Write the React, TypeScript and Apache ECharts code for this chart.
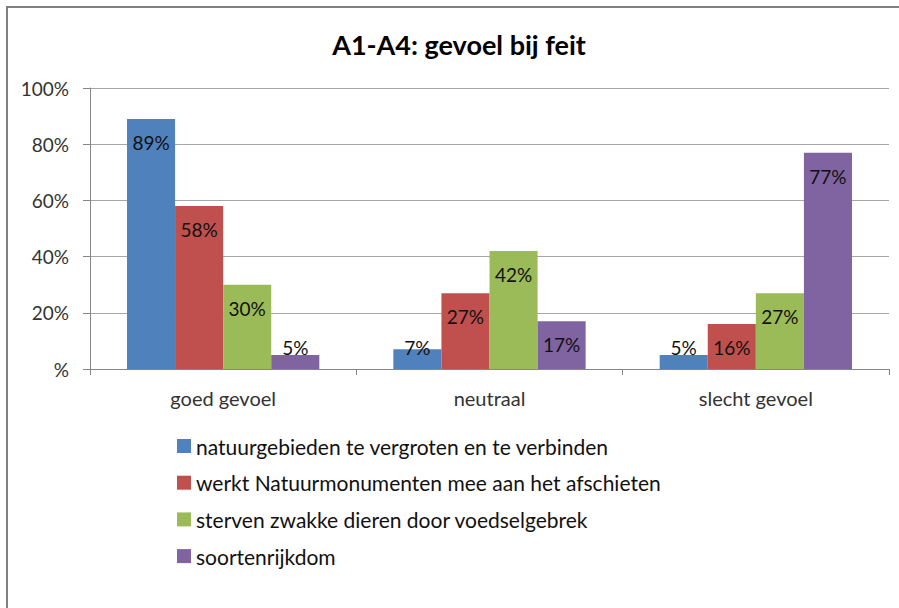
import React, { useEffect, useRef } from "react";
import * as echarts from "echarts";

const title = "A1-A4: gevoel bij feit";
const categories = ["goed gevoel", "neutraal", "slecht gevoel"];
const seriesNames = [
  "natuurgebieden te vergroten en te verbinden",
  "werkt Natuurmonumenten mee aan het afschieten",
  "sterven zwakke dieren door voedselgebrek",
  "soortenrijkdom",
];
const natuurgebieden = [89, 7, 5];
const natuurmonumenten = [58, 27, 16];
const sterven = [30, 42, 27];
const soortenrijkdom = [5, 17, 77];
const colors = ["#4F81BD", "#C0504D", "#9BBB59", "#8064A2"];
const yTicks = [0, 20, 40, 60, 80, 100];

const FONT = "Lato, 'Open Sans', sans-serif";

export default function App() {
  const ref = useRef<HTMLDivElement>(null);
  useEffect(() => {
    if (!ref.current) return;
    const chart = echarts.init(ref.current, undefined, { renderer: "svg" });
    const all = [natuurgebieden, natuurmonumenten, sterven, soortenrijkdom];
    const series = all.map((vals, i) => ({
      type: "bar",
      name: seriesNames[i],
      barGap: "0%",
      barCategoryGap: "27.8%",
      itemStyle: { color: colors[i] },
      data: vals.map((v) => ({
        value: v,
        label:
          v <= 10
            ? { show: true, position: "insideBottom", distance: 12 }
            : { show: true, position: "insideTop", distance: 14 },
      })),
      label: {
        show: true,
        formatter: (p: any) => p.value + "%",
        fontFamily: FONT,
        fontSize: 19,
        color: "#111",
      },
    }));
    chart.setOption({
      animation: false,
      backgroundColor: "#fff",
      textStyle: { fontFamily: FONT },
      graphic: [
        {
          type: "rect",
          shape: { x: 7, y: 7, width: 910, height: 620 },
          style: { fill: "none", stroke: "#808080", lineWidth: 2 },
          silent: true,
          z: 10,
        },
        {
          type: "text",
          x: 459,
          y: 44,
          style: {
            text: title,
            fontFamily: FONT,
            fontSize: 27,
            fontWeight: "bold",
            fill: "#000",
            align: "center",
            verticalAlign: "middle",
          },
        },
      ],
      grid: { left: 90, top: 88, right: 10, bottom: 239, containLabel: false },
      legend: {
        orient: "vertical",
        left: 172,
        top: 429,
        itemWidth: 14,
        itemHeight: 14,
        itemGap: 12.7,
        icon: "rect",
        textStyle: { fontFamily: FONT, fontSize: 21, color: "#111", lineHeight: 24 },
        data: seriesNames,
      },
      xAxis: {
        type: "category",
        data: categories,
        axisLine: { lineStyle: { color: "#868686", width: 1 } },
        axisTick: { show: true, length: 6, lineStyle: { color: "#868686" } },
        axisLabel: { fontFamily: FONT, fontSize: 20, color: "#333", margin: 19 },
      },
      yAxis: {
        type: "value",
        min: yTicks[0],
        max: yTicks[yTicks.length - 1],
        interval: 20,
        axisLine: { show: true, lineStyle: { color: "#868686", width: 1 } },
        axisTick: { show: true, length: 7, lineStyle: { color: "#868686" } },
        splitLine: { lineStyle: { color: "#a6a6a6", width: 1 } },
        axisLabel: {
          fontFamily: FONT,
          fontSize: 19,
          color: "#333",
          margin: 21,
          formatter: (v: number) => (v === 0 ? "%" : v + "%"),
        },
      },
      series,
    });
    return () => chart.dispose();
  }, []);
  return (
    <div
      ref={ref}
      style={{ position: "fixed", left: 0, top: 0, width: 899, height: 608, background: "#fff" }}
    />
  );
}
